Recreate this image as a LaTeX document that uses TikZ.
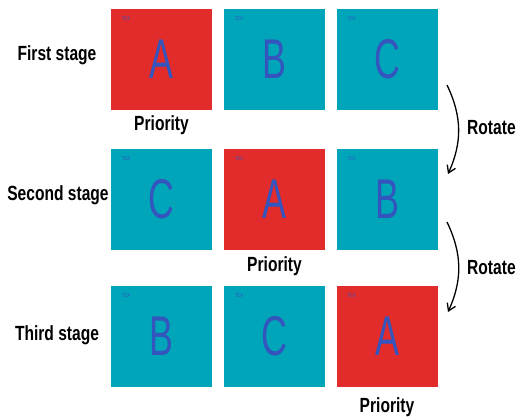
\documentclass[tikz,border=0pt]{standalone}
\usepackage{fontspec}
\setmainfont{Liberation Sans}
\newfontfamily\narrowfont[FakeStretch=0.64]{Liberation Sans}
\newfontfamily\labelfont[FakeStretch=0.76]{Liberation Sans}
\usetikzlibrary{arrows.meta}
\definecolor{boxred}{RGB}{226,44,44}
\definecolor{boxteal}{RGB}{0,165,185}
\definecolor{letterblue}{RGB}{52,84,190}
\begin{document}
\begin{tikzpicture}[x=1pt, y=-1pt,
	stagebox/.style = { minimum size = 101pt, inner sep = 0pt,
		text = letterblue, font = \narrowfont\fontsize{56}{56}\selectfont },
	tica/.style = { anchor = north west, inner sep = 0pt, text = letterblue,
		font = \narrowfont\fontsize{5.5}{5.5}\selectfont },
	txt/.style = { inner sep = 0pt, font = \labelfont\bfseries\fontsize{20.5}{20.5}\selectfont },
	rotarrow/.style = { draw, line width = 1.3pt, -{Straight Barb[length=7pt, width=9pt]} }]
	\useasboundingbox (0,0) rectangle (517,419);
	% boxes
	\foreach \n/\x/\y/\t/\f in {a1/161.5/59.5/A/boxred, b1/274.5/59.5/B/boxteal, c1/387/59.5/C/boxteal,
		c2/161.5/199.5/C/boxteal, a2/274.5/199.5/A/boxred, b2/387/199.5/B/boxteal,
		b3/161.5/336.5/B/boxteal, c3/274.5/336.5/C/boxteal, a3/387/336.5/A/boxred} {
		\node [stagebox, fill = \f] (\n) at (\x,\y) { \t };
		\node [tica] at ([xshift = 11pt, yshift = -8pt] \n.north west) { TICA };
	}
	% stages
	\node [txt] (first) at (57,55) { First stage };
	\node [txt] (second) at (58,195) { Second stage };
	\node [txt] (third) at (57,335) { Third stage };
	% priority
	\node [txt, below = 5pt] (p1) at (a1.south) { Priority };
	\node [txt, below = 6pt] (p2) at (a2.south) { Priority };
	\node [txt, below = 10pt] (p3) at (a3.south) { Priority };
	% rotate
	\coordinate (r1s) at (447,85);
	\coordinate (r1e) at (448,174);
	\coordinate (r2s) at (447,222);
	\coordinate (r2e) at (448,312);
	\draw [rotarrow] (r1s) to [bend left = 25] (r1e);
	\draw [rotarrow] (r2s) to [bend left = 25] (r2e);
	\node [txt, anchor = west] (rot1) at (467,128) { Rotate };
	\node [txt, anchor = west] (rot2) at (467,268) { Rotate };
\end{tikzpicture}
\end{document}
